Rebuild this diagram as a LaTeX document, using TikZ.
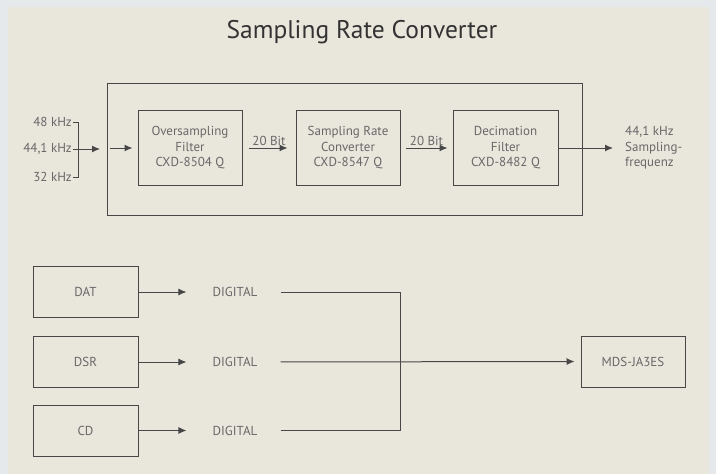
\documentclass[tikz,border=0pt]{standalone}
\usepackage{fontspec}
\setmainfont{PT Sans}
\usetikzlibrary{arrows.meta,positioning}
\definecolor{paper}{HTML}{E9E6DC}
\definecolor{margin}{HTML}{E5E9EC}
\definecolor{ink}{HTML}{474747}
\definecolor{lettering}{HTML}{686868}
\tikzset{
  block/.style={draw=ink, line width=1pt, inner sep=0pt, align=center,
    text=lettering, font=\fontsize{13}{15.5}\selectfont},
  flow/.style={draw=ink, line width=1pt, -{Latex[length=8pt,width=7pt]}},
  wire/.style={draw=ink, line width=1pt},
  lbl/.style={text=lettering, font=\fontsize{13}{15.5}\selectfont, inner sep=1pt}
}

\begin{document}
\begin{tikzpicture}[x=1pt,y=-1pt]
\useasboundingbox (0,0) rectangle (716,474);
\fill[margin] (0,0) rectangle (716,474);
\fill[paper] (8,7) rectangle (709,474);

\node[text=black!80, font=\fontsize{25.5}{30}\selectfont] (title) at (362,32) {Sampling Rate Converter};

% converter chain
\node[block, minimum width=475pt, minimum height=132pt] (frame) at (344.5,149) {};
\node[block, minimum width=104pt, minimum height=75pt] (osf) at (190,148) {Oversampling\\Filter\\CXD-8504 Q};
\node[block, minimum width=104pt, minimum height=75pt] (src) at (348,148) {Sampling Rate\\Converter\\CXD-8547 Q};
\node[block, minimum width=105pt, minimum height=75pt] (dec) at (505.5,148) {Decimation\\Filter\\CXD-8482 Q};

\node[lbl, anchor=east] (f48) at (73,122) {48 kHz};
\node[lbl, anchor=east] (f441) at (73,149) {44,1 kHz};
\node[lbl, anchor=east] (f32) at (73,177) {32 kHz};
\node[lbl, anchor=west, align=left] (out) at (624,148) {44,1 kHz\\Sampling-\\frequenz};
\coordinate (gate) at (100,149);

\draw[wire] (f48.east) -- ++(5,0) |- (f32.east);
\draw[flow] (f441.east) -- (gate);
\draw[flow, shorten <=3pt, shorten >=5pt] (frame.west |- osf.west) -- (osf.west);
\draw[flow, shorten <=6pt, shorten >=8pt] (osf.east) -- node[lbl, above=1pt] {20 Bit} (src.west);
\draw[flow, shorten <=5pt, shorten >=5pt] (src.east) -- node[lbl, above=1pt] {20 Bit} (dec.west);
\draw[flow, shorten >=11pt] (dec.east) -- (out.west);

% sources
\node[block, minimum width=105pt, minimum height=51pt] (dat) at (85.5,292) {DAT};
\node[block, minimum width=105pt, minimum height=51pt] (dsr) at (85.5,362) {DSR};
\node[block, minimum width=105pt, minimum height=51pt] (cd) at (85.5,430.5) {CD};
\node[block, minimum width=104pt, minimum height=51pt] (mds) at (633,361.5) {MDS-JA3ES};

\node[lbl] (dig1) at (235,292) {DIGITAL};
\node[lbl] (dig2) at (235,362) {DIGITAL};
\node[lbl] (dig3) at (235,430.5) {DIGITAL};
\coordinate (bus) at (400,362);

\draw[flow, shorten >=25pt] (dat.east) -- (dig1.west);
\draw[flow, shorten >=25pt] (dsr.east) -- (dig2.west);
\draw[flow, shorten >=25pt] (cd.east) -- (dig3.west);
\draw[wire, shorten <=22pt] (dig1.east) -| (bus);
\draw[wire, shorten <=22pt] (dig3.east) -| (bus);
\draw[flow, shorten <=22pt, shorten >=6pt] (dig2.east) -- (mds.west);
\end{tikzpicture}
\end{document}
